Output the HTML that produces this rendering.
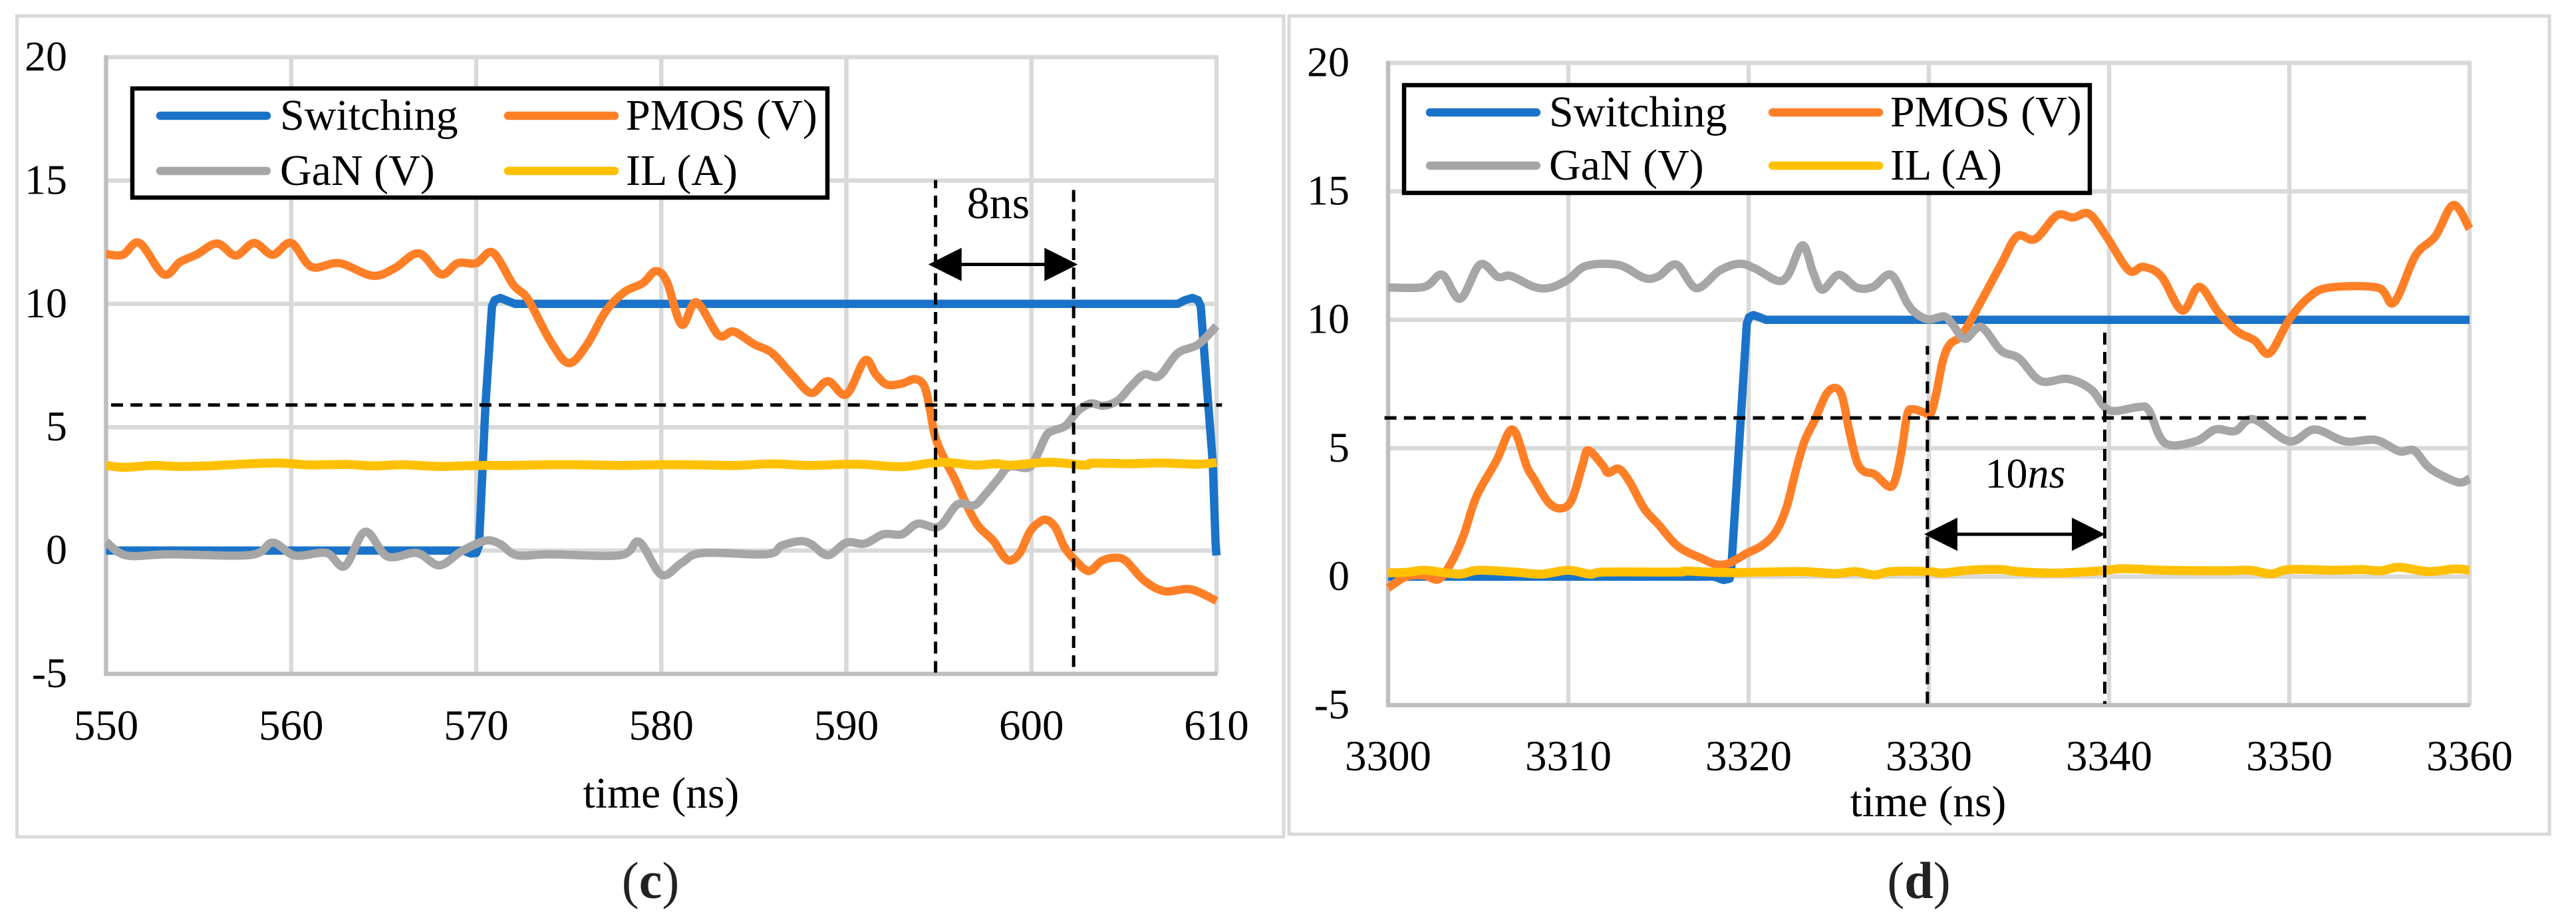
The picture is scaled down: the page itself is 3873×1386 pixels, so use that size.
<!DOCTYPE html>
<html lang="en">
<head>
<meta charset="utf-8">
<title>Switching waveforms (c) and (d)</title>
<style>
html,body{margin:0;padding:0;background:#fff;}
svg{display:block;font-family:"Liberation Serif","Times New Roman",serif;}
</style>
</head>
<body>
<svg id="figure" xmlns="http://www.w3.org/2000/svg" width="3873" height="1386" viewBox="0 0 3873 1386">
<rect x="0" y="0" width="3873" height="1386" fill="#ffffff"/>
<rect x="25.5" y="24" width="1904.5" height="1234" fill="none" stroke="#d9d9d9" stroke-width="5"/>
<rect x="1938" y="24" width="1895" height="1230" fill="none" stroke="#d9d9d9" stroke-width="5"/>
<g id="panel-c"></g>
<g id="panel-d"></g>
<text x="978" y="1350" font-size="78" text-anchor="middle" fill="#222">(<tspan font-weight="bold">c</tspan>)</text>
<text x="2885" y="1350" font-size="78" text-anchor="middle" fill="#222">(<tspan font-weight="bold">d</tspan>)</text>
</svg>
<script>
const yTickLabels = [20, 15, 10, 5, 0, -5];
const seriesNames = ["Switching", "PMOS (V)", "GaN (V)", "IL (A)"];

const xTickLabelsC = [550, 560, 570, 580, 590, 600, 610];
const switchingTimesC = [550, 569.3, 569.7, 570.0, 570.15, 570.5, 570.85, 571.0, 571.3, 571.7, 572.1, 607.9, 608.3, 608.7, 609.0, 609.15, 609.8, 609.95, 610];
const switchingValuesC = [0, 0, -0.12, -0.1, 0.2, 5.9, 9.9, 10.15, 10.24, 10.12, 10, 10, 10.15, 10.24, 10.15, 9.9, 3.55, 0.3, -0.2];
const pmosTimesC = [550, 550.9, 551.8, 553.1, 554, 554.9, 556, 557, 558, 559, 560, 561.1, 562.6, 564.4, 565.6, 566.9, 568.1, 569, 570, 570.9, 572, 572.8, 574, 575, 576, 577, 578, 579, 579.7, 580.3, 581.1, 581.9, 583.1, 583.9, 585, 586, 587.1, 588.1, 589, 590, 591, 591.6, 592.2, 593, 593.7, 594.2, 594.5, 594.8, 595.3, 595.8, 596.3, 596.75, 597.2, 597.95, 598.5, 598.9, 599.4, 599.9, 600.35, 600.8, 601.3, 601.8, 602.4, 603.1, 603.8, 604.5, 605.1, 606.1, 607.2, 608.6, 610];
const pmosValuesC = [12.02, 11.99, 12.47, 11.2, 11.7, 12.0, 12.45, 11.96, 12.47, 11.99, 12.47, 11.5, 11.65, 11.14, 11.45, 12.05, 11.2, 11.65, 11.65, 12.08, 10.78, 10.18, 8.5, 7.6, 8.37, 9.7, 10.48, 10.84, 11.33, 10.9, 9.16, 10.06, 8.73, 8.88, 8.37, 8.0, 7.1, 6.39, 6.87, 6.33, 7.71, 7.13, 6.73, 6.77, 6.95, 6.68, 5.78, 4.61, 3.71, 2.99, 2.18, 1.47, 0.93, 0.39, -0.24, -0.4, -0.06, 0.75, 1.11, 1.25, 0.93, 0.12, -0.42, -0.83, -0.42, -0.29, -0.42, -1.22, -1.65, -1.57, -2.04];
const ganTimesC = [550, 551.1, 553.4, 557.8, 559, 560.2, 561.9, 562.9, 564, 565.2, 566.8, 568, 569.2, 570.5, 571.3, 572.2, 574, 577.8, 578.8, 580, 581.1, 582.2, 585.7, 586.5, 587.5, 588.1, 589, 590, 591, 592, 593, 593.85, 595, 596, 596.9, 597.5, 598.2, 598.8, 599.8, 600.2, 600.8, 601.2, 601.85, 602.5, 603.2, 603.9, 604.7, 605.4, 606.1, 606.9, 607.9, 609, 610];
const ganValuesC = [0.35, -0.2, -0.15, -0.18, 0.32, -0.2, -0.1, -0.63, 0.76, -0.24, -0.1, -0.6, -0.03, 0.4, 0.26, -0.19, -0.15, -0.19, 0.35, -0.98, -0.5, -0.1, -0.15, 0.2, 0.38, 0.26, -0.19, 0.32, 0.28, 0.66, 0.66, 1.09, 0.97, 1.87, 1.83, 2.27, 2.9, 3.4, 3.35, 3.7, 4.66, 4.87, 5.06, 5.65, 5.96, 5.87, 6.1, 6.68, 7.14, 7.07, 8.0, 8.35, 9.1];
const ilTimesC = [550, 551, 552.5, 553.8, 555.5, 557, 559.3, 561, 563, 564.5, 566, 568, 570, 572, 574, 576, 578, 580, 582, 584, 586, 588, 590, 591, 593, 595.1, 596.9, 598.1, 598.9, 601, 602.9, 603.3, 605.4, 607, 609, 610];
const ilValuesC = [3.45, 3.37, 3.45, 3.41, 3.43, 3.49, 3.55, 3.47, 3.49, 3.43, 3.48, 3.41, 3.45, 3.45, 3.48, 3.47, 3.45, 3.48, 3.47, 3.45, 3.51, 3.45, 3.5, 3.49, 3.4, 3.58, 3.46, 3.52, 3.46, 3.58, 3.46, 3.54, 3.52, 3.55, 3.5, 3.57];

const xTickLabelsD = [3300, 3310, 3320, 3330, 3340, 3350, 3360];
const switchingTimesD = [3300, 3318.1, 3318.6, 3318.95, 3319.05, 3319.9, 3320.03, 3320.27, 3320.6, 3320.95, 3360];
const switchingValuesD = [0, 0, -0.13, -0.08, 0.44, 9.85, 10.1, 10.18, 10.1, 10, 10];
const pmosTimesD = [3300, 3301, 3302, 3302.8, 3303.5, 3304.2, 3304.9, 3306, 3306.9, 3307.7, 3308.1, 3308.9, 3309.6, 3310.2, 3310.8, 3311.1, 3311.9, 3312.2, 3312.8, 3313.4, 3314.2, 3315, 3316.1, 3317.44, 3318.2, 3318.9, 3319.9, 3320.76, 3321.5, 3322.1, 3322.6, 3323.1, 3323.7, 3324.3, 3324.8, 3325.2, 3325.6, 3326, 3326.4, 3327, 3327.8, 3328.15, 3328.5, 3328.8, 3329.1, 3329.75, 3330.1, 3330.4, 3330.8, 3331.2, 3331.85, 3332.85, 3334, 3334.9, 3335.9, 3337.1, 3338, 3338.9, 3339.9, 3341.1, 3341.9, 3342.9, 3344.06, 3345, 3346.06, 3347.1, 3348.07, 3348.9, 3350, 3351.1, 3352.2, 3354.9, 3355.8, 3357, 3358.1, 3359.1, 3360];
const pmosValuesD = [-0.44, 0, 0.05, -0.1, 0.54, 1.63, 3.12, 4.5, 5.73, 4.28, 3.8, 2.89, 2.66, 3.0, 4.38, 4.92, 4.34, 4.04, 4.2, 3.69, 2.66, 2.03, 1.17, 0.7, 0.48, 0.52, 0.91, 1.22, 1.74, 2.69, 4.07, 5.27, 6.14, 7.09, 7.35, 7.0, 5.62, 4.5, 4.1, 3.98, 3.5, 3.8, 4.93, 6.31, 6.52, 6.39, 6.35, 7.09, 8.47, 9.07, 9.42, 10.65, 12.15, 13.25, 13.14, 14.06, 13.98, 14.12, 13.19, 11.92, 12.06, 11.69, 10.36, 11.28, 10.3, 9.55, 9.2, 8.7, 10.01, 10.88, 11.25, 11.25, 10.67, 12.5, 13.25, 14.47, 13.54];
const ganTimesD = [3300, 3302, 3303, 3304, 3305.1, 3306.1, 3306.8, 3308.1, 3309, 3310, 3311, 3312.8, 3314.2, 3315, 3316, 3317.1, 3318.4, 3319.5, 3320.4, 3321.6, 3322.2, 3323, 3323.6, 3324.1, 3325, 3326, 3326.9, 3327.9, 3328.8, 3329.3, 3330, 3330.85, 3331.3, 3332, 3332.9, 3334, 3335, 3336.2, 3337.7, 3339, 3340, 3341.6, 3342.2, 3343.1, 3344.8, 3345.9, 3347, 3348, 3350, 3351.4, 3353.1, 3354.8, 3356.1, 3356.9, 3357.6, 3358.2, 3359.4, 3360];
const ganValuesD = [11.26, 11.28, 11.75, 10.82, 12.15, 11.67, 11.71, 11.28, 11.25, 11.57, 12.1, 12.13, 11.63, 11.69, 12.15, 11.23, 11.92, 12.18, 11.98, 11.52, 11.75, 12.9, 11.8, 11.17, 11.75, 11.25, 11.28, 11.75, 10.65, 10.24, 10.01, 10.13, 9.84, 9.26, 9.72, 8.8, 8.5, 7.62, 7.7, 7.29, 6.48, 6.6, 6.48, 5.2, 5.27, 5.73, 5.67, 6.13, 5.27, 5.73, 5.27, 5.32, 4.88, 4.92, 4.35, 4.04, 3.67, 3.82];
const ilTimesD = [3300, 3301, 3302, 3303, 3304, 3305, 3307, 3308.5, 3310, 3311.2, 3312, 3316, 3316.5, 3318, 3319.4, 3322.9, 3324.8, 3325.9, 3327, 3327.9, 3330, 3330.74, 3332.2, 3334, 3334.9, 3337, 3339.6, 3340.75, 3343.1, 3346.4, 3347.8, 3349, 3350, 3352.5, 3354, 3355.1, 3356.1, 3357.7, 3359.2, 3360];
const ilValuesD = [0.15, 0.17, 0.25, 0.17, 0.1, 0.25, 0.18, 0.1, 0.25, 0.1, 0.18, 0.18, 0.22, 0.17, 0.16, 0.2, 0.12, 0.2, 0.07, 0.2, 0.2, 0.14, 0.25, 0.28, 0.2, 0.14, 0.23, 0.31, 0.25, 0.23, 0.25, 0.11, 0.28, 0.25, 0.28, 0.23, 0.37, 0.2, 0.3, 0.25];

const SVGNS = "http://www.w3.org/2000/svg";
const seriesColors = ["#1a73c8", "#ff7f27", "#a6a6a6", "#ffc000"];

function smoothPath(pts) {
  let d = "M" + pts[0][0] + " " + pts[0][1];
  for (let i = 0; i < pts.length - 1; i++) {
    const p0 = pts[Math.max(i - 1, 0)];
    const p1 = pts[i];
    const p2 = pts[i + 1];
    const p3 = pts[Math.min(i + 2, pts.length - 1)];
    const c1x = p1[0] + (p2[0] - p0[0]) / 6;
    const c1y = p1[1] + (p2[1] - p0[1]) / 6;
    const c2x = p2[0] - (p3[0] - p1[0]) / 6;
    const c2y = p2[1] - (p3[1] - p1[1]) / 6;
    d += "C" + c1x.toFixed(1) + " " + c1y.toFixed(1) + " " + c2x.toFixed(1) + " " + c2y.toFixed(1) + " " + p2[0].toFixed(1) + " " + p2[1].toFixed(1);
  }
  return d;
}

function polyPath(pts) {
  return pts.map(function (p, i) { return (i ? "L" : "M") + p[0].toFixed(1) + " " + p[1].toFixed(1); }).join("");
}

function makeLine(parent, x1, y1, x2, y2, color, width, dash) {
  const el = document.createElementNS(SVGNS, "line");
  el.setAttribute("x1", x1);
  el.setAttribute("y1", y1);
  el.setAttribute("x2", x2);
  el.setAttribute("y2", y2);
  el.setAttribute("stroke", color);
  el.setAttribute("stroke-width", width);
  if (dash) el.setAttribute("stroke-dasharray", dash);
  parent.appendChild(el);
  return el;
}

function makeText(parent, x, y, size, anchor, content) {
  const el = document.createElementNS(SVGNS, "text");
  el.setAttribute("x", x);
  el.setAttribute("y", y);
  el.setAttribute("font-size", size);
  el.setAttribute("text-anchor", anchor);
  el.setAttribute("fill", "#000");
  el.textContent = content;
  parent.appendChild(el);
  return el;
}

function drawChart(cfg) {
  const root = document.getElementById(cfg.id);
  const xMin = cfg.xTicks[0];
  const xMax = cfg.xTicks[cfg.xTicks.length - 1];
  const xScale = function (t) { return cfg.left + (t - xMin) * (cfg.right - cfg.left) / (xMax - xMin); };
  const yScale = function (v) { return cfg.top + (20 - v) * (cfg.bottom - cfg.top) / 25; };

  yTickLabels.forEach(function (v) {
    if (v !== -5) {
      const g = makeLine(root, cfg.left, yScale(v), cfg.right + 3, yScale(v), "#d9d9d9", 6.5);
      
      
    }
    const lab = makeText(root, cfg.yLabelX, yScale(v) + 20, 64, "end", String(v));
    
    
  });
  cfg.xTicks.forEach(function (t, i) {
    if (i > 0) {
      const g = makeLine(root, xScale(t), cfg.top, xScale(t), cfg.bottom, "#d9d9d9", 6.5);
      
      
    }
    const lab = makeText(root, xScale(t), cfg.xLabelY, 65, "middle", String(t));
    
    
  });
  const yAxis = makeLine(root, cfg.left, cfg.top - 3, cfg.left, cfg.bottom + 3, "#bfbfbf", 6.5);
  
  
  const xAxis = makeLine(root, cfg.left - 3, cfg.bottom, cfg.right + 1, cfg.bottom, "#bfbfbf", 6.5);
  
  

  const keys = ["series-switching", "series-pmos", "series-gan", "series-il"];
  cfg.series.forEach(function (s, i) {
    const pts = s.times.map(function (t, j) { return [xScale(t), yScale(s.values[j])]; });
    const path = document.createElementNS(SVGNS, "path");
    path.setAttribute("d", i === 0 ? polyPath(pts) : smoothPath(pts));
    path.setAttribute("fill", "none");
    path.setAttribute("stroke", seriesColors[i]);
    path.setAttribute("stroke-width", i === 3 ? 13.5 : 12.5);
    path.setAttribute("stroke-linejoin", "round");
    
    
    root.appendChild(path);
  });

  const a = cfg.annotation;
  const hl = makeLine(root, xScale(a.hFrom), yScale(a.hValue), xScale(a.hTo), yScale(a.hValue), "#000", 5.2, "18 11.15");
  
  
  const v1 = makeLine(root, xScale(a.v1), yScale(a.v1Top), xScale(a.v1), yScale(a.v1Bottom), "#000", 5, "18 11.15");
  v1.setAttribute("stroke-dashoffset", a.v1Phase);
  
  
  const v2 = makeLine(root, xScale(a.v2), yScale(a.v2Top), xScale(a.v2), yScale(a.v2Bottom), "#000", 5, "18 11.15");
  
  

  const ax1 = xScale(a.arrowFrom);
  const ax2 = xScale(a.arrowTo);
  const ay = yScale(a.arrowValue);
  const shaft = makeLine(root, ax1 + 40, ay, ax2 - 40, ay, "#000", 5);
  
  
  const headL = document.createElementNS(SVGNS, "polygon");
  headL.setAttribute("points", ax1 + "," + ay + " " + (ax1 + 50) + "," + (ay - 25) + " " + (ax1 + 50) + "," + (ay + 25));
  headL.setAttribute("fill", "#000");
  
  
  root.appendChild(headL);
  const headR = document.createElementNS(SVGNS, "polygon");
  headR.setAttribute("points", ax2 + "," + ay + " " + (ax2 - 50) + "," + (ay - 25) + " " + (ax2 - 50) + "," + (ay + 25));
  headR.setAttribute("fill", "#000");
  
  
  root.appendChild(headR);

  const delay = makeText(root, a.labelX, a.labelY, a.labelSize, "middle", a.labelMain);
  
  
  if (a.labelItalic) {
    const it = document.createElementNS(SVGNS, "tspan");
    it.setAttribute("font-style", "italic");
    it.textContent = a.labelItalic;
    delay.appendChild(it);
  }

  const title = makeText(root, cfg.xTitleX, cfg.xTitleY, 65.5, "middle", "time (ns)");
  
  

  const L = cfg.legend;
  const box = document.createElementNS(SVGNS, "rect");
  box.setAttribute("x", L.x);
  box.setAttribute("y", L.y);
  box.setAttribute("width", L.w);
  box.setAttribute("height", L.h);
  box.setAttribute("fill", "#fff");
  box.setAttribute("stroke", "#000");
  box.setAttribute("stroke-width", 6.5);
  
  
  root.appendChild(box);
  seriesNames.forEach(function (name, i) {
    const col = i % 2;
    const row = i < 2 ? 0 : 1;
    const x0 = col === 0 ? L.line1 : L.line2;
    const yy = row === 0 ? L.row1 : L.row2;
    const sw = makeLine(root, x0 + 6, yy, x0 + 166, yy, seriesColors[i], 12.5);
    sw.setAttribute("stroke-linecap", "round");
    
    
    const tx = makeText(root, col === 0 ? L.text1 : L.text2, yy + 21, 66, "start", name);
    
    
  });
}

drawChart({
  id: "panel-c",
  left: 159.5, right: 1829, top: 86, bottom: 1013,
  yLabelX: 101, xLabelY: 1112,
  xTitleX: 994, xTitleY: 1214,
  xTicks: xTickLabelsC,
  series: [
    { times: switchingTimesC, values: switchingValuesC },
    { times: pmosTimesC, values: pmosValuesC },
    { times: ganTimesC, values: ganValuesC },
    { times: ilTimesC, values: ilValuesC }
  ],
  annotation: {
    hValue: 5.9, hFrom: 550.27, hTo: 610.3,
    v1: 594.82, v1Top: 15.02, v1Bottom: -4.95, v1Phase: 5.7,
    v2: 602.28, v2Top: 14.62, v2Bottom: -4.72,
    arrowValue: 11.6, arrowFrom: 594.43, arrowTo: 602.5,
    labelX: 1501, labelY: 328, labelSize: 68, labelMain: "8ns", labelItalic: ""
  },
  legend: { x: 199, y: 133, w: 1045, h: 164, line1: 235, line2: 758, row1: 174, row2: 257, text1: 421, text2: 941 }
});

drawChart({
  id: "panel-d",
  left: 2087, right: 3713, top: 94.5, bottom: 1060,
  yLabelX: 2029, xLabelY: 1158,
  xTitleX: 2899, xTitleY: 1227,
  xTicks: xTickLabelsD,
  series: [
    { times: switchingTimesD, values: switchingValuesD },
    { times: pmosTimesD, values: pmosValuesD },
    { times: ganTimesD, values: ganValuesD },
    { times: ilTimesD, values: ilValuesD }
  ],
  annotation: {
    hValue: 6.18, hFrom: 3299.8, hTo: 3354.26,
    v1: 3329.92, v1Top: 8.98, v1Bottom: -4.95, v1Phase: 5,
    v2: 3339.76, v2Top: 9.5, v2Bottom: -4.95,
    arrowValue: 1.65, arrowFrom: 3329.74, arrowTo: 3339.78,
    labelX: 3045, labelY: 733, labelSize: 64, labelMain: "10", labelItalic: "ns"
  },
  legend: { x: 2111, y: 128, w: 1031, h: 162, line1: 2144, line2: 2659, row1: 169, row2: 249, text1: 2329, text2: 2842 }
});
</script>
</body>
</html>
